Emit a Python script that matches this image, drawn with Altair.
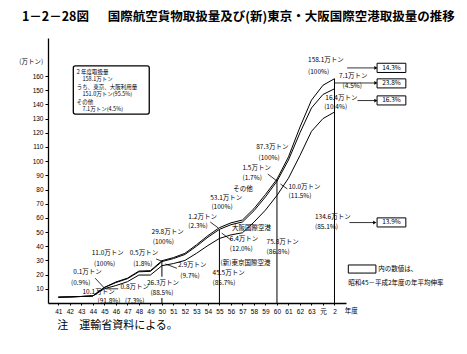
import altair as alt
import pandas as pd

FONT = "Noto Sans CJK JP"

# ---- series (万トン) ----
years = list(range(41, 66))  # 昭和41 ... 63, 元(64), 2(65)
total = [4.1, 4.3, 4.6, 5.0, 11.0, 14.8, 17.5, 22.5, 22.8, 29.8, 32.0, 35.0, 41.0,
         47.5, 53.1, 56.5, 58.5, 66.5, 76.5, 87.3, 103.0, 124.0, 143.0, 153.5, 158.1]
tokyo_osaka = [4.1, 4.3, 4.6, 5.0, 10.9, 14.4, 17.1, 22.0, 22.3, 29.2, 31.3, 34.2, 40.0,
               46.4, 51.9, 55.2, 57.1, 65.0, 74.8, 85.8, 100.8, 120.0, 137.5, 147.0, 151.0]
tokyo = [4.1, 4.3, 4.6, 5.0, 10.1, 12.3, 15.0, 19.7, 19.7, 26.3, 27.8, 30.0, 35.0,
         40.5, 45.5, 48.0, 49.5, 57.0, 65.5, 75.8, 88.0, 104.0, 121.0, 130.0, 134.6]

x_tick_values = years
x_tick_labels = [str(y) for y in range(41, 64)] + ["元", "2"]
y_tick_values = list(range(10, 161, 10))

# ---- annotation texts (year, value) ----
ann_text = ["158.1万トン", "(100%)", "7.1万トン", "(4.5%)", "16.4万トン", "(10.4%)",
            "134.6万トン", "(85.1%)", "87.3万トン", "(100%)", "1.5万トン", "(1.7%)",
            "その他", "10.0万トン", "(11.5%)", "53.1万トン", "(100%)", "1.2万トン", "(2.3%)",
            "大阪国際空港", "6.4万トン", "(12.0%)", "75.8万トン", "(86.8%)", "(新)東京国際空港",
            "45.5万トン", "(85.7%)", "29.8万トン", "(100%)", "11.0万トン", "(100%)",
            "0.5万トン", "(1.8%)", "2.9万トン", "(9.7%)", "26.3万トン", "(88.5%)",
            "0.1万トン", "(0.9%)", "10.1万トン", "(91.8%)", "0.8万トン", "(7.3%)",
            "(万トン)", "内の数値は、", "昭和45－平成2年度の年平均伸率"]
ann_x = [62.7, 62.7, 65.4, 65.7, 64.2, 64.1,
         63.3, 63.3, 58.2, 58.4, 57.0, 57.0,
         56.2, 61.0, 61.0, 54.2, 54.3, 52.3, 52.3,
         56.1, 55.9, 55.9, 59.1, 59.1, 55.1,
         54.4, 54.4, 49.1, 49.2, 43.9, 44.1,
         47.2, 47.5, 51.4, 51.6, 48.7, 49.0,
         42.3, 42.1, 43.1, 44.4, 46.4, 46.8,
         37.6, 68.8, 66.2]
ann_y = [171.2, 162.8, 160.2, 153.0, 144.5, 138.2,
         60.6, 53.6, 109.9, 102.2, 95.1, 88.1,
         80.4, 81.7, 75.4, 74.0, 67.7, 60.6, 54.3,
         52.9, 45.1, 38.1, 43.0, 35.9, 28.2,
         21.1, 14.1, 50.0, 43.0, 35.2, 27.5,
         35.2, 27.5, 26.8, 19.0, 14.1, 7.0,
         21.8, 14.1, 7.7, 1.5, 11.3, 1.5,
         169.9, 24.0, 14.1]

# text inside the summary box (top-left)
info_text = ["2 年度取扱量", "158.1万トン", "うち、東京、大阪利用量", "151.0万トン(95.5%)",
             "その他", "7.1万トン(4.5%)"]
info_x = [42.6, 43.1, 42.6, 43.1, 42.6, 43.1]
info_y = [162.8, 157.6, 152.3, 147.0, 141.7, 136.4]

# growth-rate boxes
box_text = ["14.3%", "23.8%", "16.3%", "13.9%", ""]
box_x1 = [68.7, 68.7, 68.7, 68.7, 66.2]
box_x2 = [71.2, 71.2, 71.2, 71.2, 68.6]
box_y1 = [162.5, 151.6, 139.6, 53.6, 21.1]
box_y2 = [169.0, 158.0, 146.0, 60.0, 26.8]

# leader lines / arrows
lead_x1 = [66.1, 65.0, 67.0, 66.3, 45.0, 45.1, 49.5, 51.3, 54.2, 56.0, 59.2, 60.9]
lead_x2 = [68.6, 68.6, 68.6, 68.5, 44.2, 46.2, 50.0, 50.3, 54.9, 55.2, 60.0, 60.3]
lead_y1 = [165.7, 155.1, 142.7, 56.7, 10.5, 10.0, 31.0, 24.5, 57.1, 44.4, 90.9, 80.4]
lead_y2 = [165.7, 155.1, 142.7, 56.7, 17.5, 10.0, 29.5, 27.5, 52.9, 49.3, 86.0, 83.9]

# vertical drop lines
drop_x = [50, 50, 55, 60, 65]
drop_top = [29.8, 3.5, 51.9, 87.3, 158.1]
drop_bot = [18.5, 0, 0, 0, 0]

# ---- frames ----
lines_df = pd.DataFrame({
    "year": years * 3,
    "value": total + tokyo_osaka + tokyo,
    "series": ["総量"] * 25 + ["東京・大阪"] * 25 + ["新東京"] * 25,
})
ann_df = pd.DataFrame({"x": ann_x, "y": ann_y, "text": ann_text})
info_txt_df = pd.DataFrame({"x": info_x, "y": info_y, "text": info_text})
box_df = pd.DataFrame({"x1": box_x1, "x2": box_x2, "y1": box_y1, "y2": box_y2,
                       "text": box_text, "xm": [(a + b) / 2 for a, b in zip(box_x1, box_x2)],
                       "ym": [(a + b) / 2 for a, b in zip(box_y1, box_y2)]})
lead_df = pd.DataFrame({"x1": lead_x1, "x2": lead_x2, "y1": lead_y1, "y2": lead_y2})
drop_df = pd.DataFrame({"x": drop_x, "top": drop_top, "bot": drop_bot})
info_df = pd.DataFrame({"x1": [42.3], "x2": [48.9], "y1": [133.2], "y2": [167.1]})
title_df = pd.DataFrame({
    "x": [37.84, 45.3],
    "y": [201.6, 201.6],
    "text": ["1－2－28図", "国際航空貨物取扱量及び(新)東京・大阪国際空港取扱量の推移"],
})
misc_df = pd.DataFrame({
    "x": [40.9, 65.9],
    "y": [-16.2, -5.6],
    "text": ["注　運輸省資料による。", "年度"],
    "size": [11, 6.5],
})

label_expr = " : ".join(
    f"datum.value == {v} ? '{l}'" for v, l in zip(x_tick_values, x_tick_labels)
) + " : ''"

xs = alt.Scale(domain=[40.1, 66.0], nice=False, zero=False)
ys = alt.Scale(domain=[0, 186.8], nice=False)

XAXIS = alt.Axis(values=x_tick_values, labelExpr=label_expr, title=None, grid=False,
                 labelFontSize=6.5, labelFont="Liberation Sans", tickSize=2,
                 labelPadding=3, domainColor="black", tickColor="black",
                 labelColor="black", domainWidth=1.3, labelFlush=False,
                 labelOverlap=False)
YAXIS = alt.Axis(values=y_tick_values, title=None, grid=False, labelFontSize=6.5,
                 labelFont="Liberation Sans", tickSize=3, domainColor="black",
                 tickColor="black", labelColor="black", domainWidth=1.3,
                 labelPadding=2, labelOverlap=False)


def px(field):
    return alt.X(field, scale=xs, axis=XAXIS)


def py(field):
    return alt.Y(field, scale=ys, axis=YAXIS)


lines = alt.Chart(lines_df).mark_line(color="black", strokeWidth=1).encode(
    x=px("year:Q"), y=py("value:Q"), detail="series:N")

drops = alt.Chart(drop_df).mark_rule(color="black", strokeWidth=1).encode(
    x=px("x:Q"), y=py("top:Q"), y2="bot:Q")

leads = alt.Chart(lead_df).mark_rule(color="black", strokeWidth=0.8).encode(
    x=px("x1:Q"), x2="x2:Q", y=py("y1:Q"), y2="y2:Q")

heads = alt.Chart(lead_df.iloc[:4]).mark_point(shape="triangle-right", filled=True,
                                               color="black", size=14, opacity=1).encode(
    x=px("x2:Q"), y=py("y2:Q"))

boxes = alt.Chart(box_df).mark_rect(fill="white", stroke="black", strokeWidth=1).encode(
    x=px("x1:Q"), x2="x2:Q", y=py("y1:Q"), y2="y2:Q")

box_txt = alt.Chart(box_df).mark_text(font=FONT, fontSize=6.5, color="black").encode(
    x=px("xm:Q"), y=py("ym:Q"), text="text:N")

info = alt.Chart(info_df).mark_rect(fill="white", stroke="black", strokeWidth=1.3,
                                    cornerRadius=2).encode(
    x=px("x1:Q"), x2="x2:Q", y=py("y1:Q"), y2="y2:Q")

info_txt = alt.Chart(info_txt_df).mark_text(font=FONT, fontSize=5.5, align="left",
                                            baseline="middle", color="black").encode(
    x=px("x:Q"), y=py("y:Q"), text="text:N")

anns = alt.Chart(ann_df).mark_text(font=FONT, fontSize=6.5, align="left",
                                   baseline="middle", color="black").encode(
    x=px("x:Q"), y=py("y:Q"), text="text:N")

title = alt.Chart(title_df).mark_text(font=FONT, fontSize=12.5, fontWeight="bold",
                                      align="left", baseline="middle", color="black").encode(
    x=px("x:Q"), y=py("y:Q"), text="text:N")

misc = alt.Chart(misc_df).mark_text(font=FONT, align="left", baseline="middle",
                                    color="black").encode(
    x=px("x:Q"), y=py("y:Q"), text="text:N",
    size=alt.Size("size:Q", scale=None, legend=None))

chart = alt.layer(lines, drops, info, leads, heads, boxes, box_txt, info_txt, anns, title,
                  misc).properties(
    width=298, height=265,
    autosize=alt.AutoSizeParams(type="none"),
    padding={"left": 48, "top": 38, "right": 121, "bottom": 51},
    background="white",
).configure_view(stroke=None).configure_axis(labelOverlap=False)

chart.save("out.html", embed_options={"renderer": "svg", "actions": False})
